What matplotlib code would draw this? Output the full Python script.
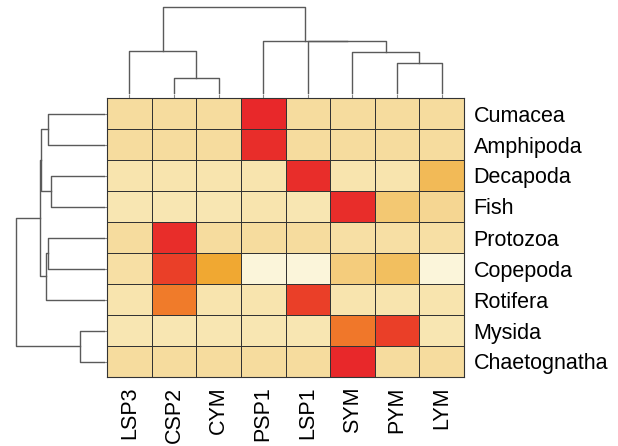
import matplotlib
matplotlib.use('Agg')
import matplotlib.pyplot as plt
from matplotlib.colors import LinearSegmentedColormap
import numpy as np

plt.rcParams['font.family'] = ['Liberation Sans', 'DejaVu Sans']

# column / row labels in display order
cols = ['LSP3', 'CSP2', 'CYM', 'PSP1', 'LSP1', 'SYM', 'PYM', 'LYM']
rows = ['Cumacea', 'Amphipoda', 'Decapoda', 'Fish', 'Protozoa',
        'Copepoda', 'Rotifera', 'Mysida', 'Chaetognatha']

# relative scores (0 = lightest, 1 = darkest red)
cumacea = [0.25, 0.25, 0.25, 1.00, 0.25, 0.25, 0.25, 0.25]
amphipoda = [0.25, 0.25, 0.25, 0.98, 0.25, 0.25, 0.25, 0.25]
decapoda = [0.17, 0.17, 0.17, 0.17, 0.98, 0.17, 0.17, 0.50]
fish = [0.15, 0.15, 0.15, 0.17, 0.15, 0.98, 0.42, 0.30]
protozoa = [0.25, 0.98, 0.25, 0.25, 0.25, 0.22, 0.22, 0.22]
copepoda = [0.22, 0.90, 0.60, 0.02, 0.02, 0.38, 0.48, 0.02]
rotifera = [0.17, 0.75, 0.17, 0.17, 0.90, 0.17, 0.17, 0.17]
mysida = [0.15, 0.15, 0.15, 0.15, 0.15, 0.76, 0.90, 0.15]
chaetognatha = [0.25, 0.25, 0.25, 0.25, 0.25, 1.00, 0.25, 0.25]

# linkage: (child a, child b, height); leaves numbered first, new clusters after
col_links = [(1, 2, 16), (0, 8, 43), (6, 7, 31), (5, 10, 42),
             (4, 11, 52.7), (3, 12, 53), (9, 13, 87)]
row_links = [(0, 1, 57.3), (2, 3, 54), (4, 5, 57.3), (11, 6, 59.3),
             (9, 10, 64.3), (13, 12, 65), (7, 8, 25), (14, 15, 89.3)]

data = np.array([cumacea, amphipoda, decapoda, fish, protozoa,
                 copepoda, rotifera, mysida, chaetognatha])

cmap = LinearSegmentedColormap.from_list('ylor', [
    (0.0, '#fcf7e0'), (0.15, '#f8e6b2'), (0.25, '#f6dc9e'),
    (0.45, '#f3c46a'), (0.6, '#f0a832'), (0.75, '#f07c2a'),
    (0.88, '#ea4428'), (1.0, '#e8282a')])

W, H = 618, 446
fig = plt.figure(figsize=(W / 100, H / 100), dpi=100)


def px(x0, y0, x1, y1):
    return [x0 / W, 1 - y1 / H, (x1 - x0) / W, (y1 - y0) / H]


def dendro(ax, links, n, vertical):
    pos = {i: i + 0.5 for i in range(n)}
    hgt = {i: 0.0 for i in range(n)}
    for k, (a, b, h) in enumerate(links):
        xs = [pos[a], pos[a], pos[b], pos[b]]
        ys = [hgt[a], h, h, hgt[b]]
        if vertical:
            ax.plot(xs, ys, color='#5a5a5a', lw=1)
        else:
            ax.plot(ys, xs, color='#5a5a5a', lw=1)
        pos[n + k] = (pos[a] + pos[b]) / 2
        hgt[n + k] = h


# heatmap
ax = fig.add_axes(px(107, 98, 464, 377))
ax.pcolormesh(data, cmap=cmap, vmin=0, vmax=1,
              edgecolors='#333333', linewidth=0.7)
ax.set_xlim(0, len(cols))
ax.set_ylim(len(rows), 0)
ax.set_xticks(np.arange(len(cols)) + 0.5)
ax.set_xticklabels(cols, rotation=90, fontsize=15.5)
ax.set_yticks(np.arange(len(rows)) + 0.5)
ax.set_yticklabels(rows, fontsize=15.5)
ax.tick_params(axis='x', bottom=False, top=True, labelbottom=True,
               labeltop=False, length=3, color='#888888', pad=4)
ax.tick_params(axis='y', left=True, right=False, labelleft=False,
               labelright=True, length=3, color='#888888', pad=4)
for s in ax.spines.values():
    s.set_color('#333333')
    s.set_linewidth(0.8)

# column dendrogram
axt = fig.add_axes(px(107, 4, 464, 94))
dendro(axt, col_links, len(cols), True)
axt.set_xlim(0, len(cols))
axt.set_ylim(0, 90)
axt.axis('off')

# row dendrogram
axl = fig.add_axes(px(10, 98, 105, 377))
dendro(axl, row_links, len(rows), False)
axl.set_ylim(len(rows), 0)
axl.set_xlim(95, 0)
axl.axis('off')

fig.savefig('out.png', dpi=100)
